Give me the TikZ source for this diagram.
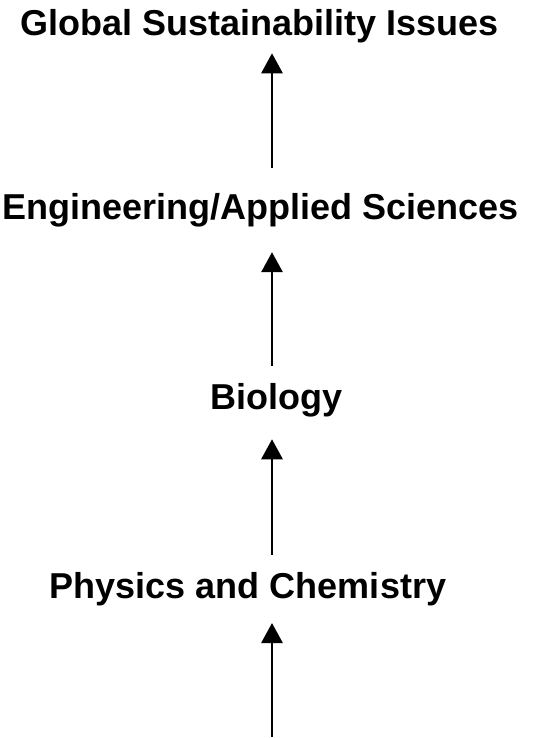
\documentclass[tikz,border=0pt]{standalone}
\usepackage{fontspec}
\setmainfont{Liberation Sans}
\usepackage{tikz}
\usetikzlibrary{arrows.meta, positioning, calc}
\definecolor{mydark}{RGB}{0,0,0}
\tikzset{
  label/.style={inner sep=0pt, anchor=base, text=mydark,
    font=\fontsize{27}{32}\selectfont\bfseries},
  arrow/.style={-{Triangle[length=15pt, width=16pt]}, line width=1.5pt, color=mydark}
}
\begin{document}
\begin{tikzpicture}[x=0.75pt, y=-0.75pt]
  \useasboundingbox (0,0) rectangle (547,738);
  % Levels
  \node[label] (global) at (259.7, 36) {Global Sustainability Issues};
  \node[label] (eng) at (260.5, 219) {Engineering/Applied Sciences};
  \node[label] (bio) at (276.5, 409) {Biology};
  \node[label] (phys) at (248, 598) {Physics and Chemistry};
  \coordinate (stem) at (272, 737);

  % Arrows
  \draw[arrow, shorten <=18.75pt, shorten >=7.2pt] (eng.north -| stem) -- (global.south -| stem);
  \draw[arrow, shorten <=12.75pt, shorten >=19pt] (bio.north -| stem) -- (eng.south -| stem);
  \draw[arrow, shorten <=12.75pt, shorten >=16.8pt] (phys.north -| stem) -- (bio.south -| stem);
  \draw[arrow, shorten >=13pt] (stem) -- (phys.south -| stem);
\end{tikzpicture}
\end{document}
